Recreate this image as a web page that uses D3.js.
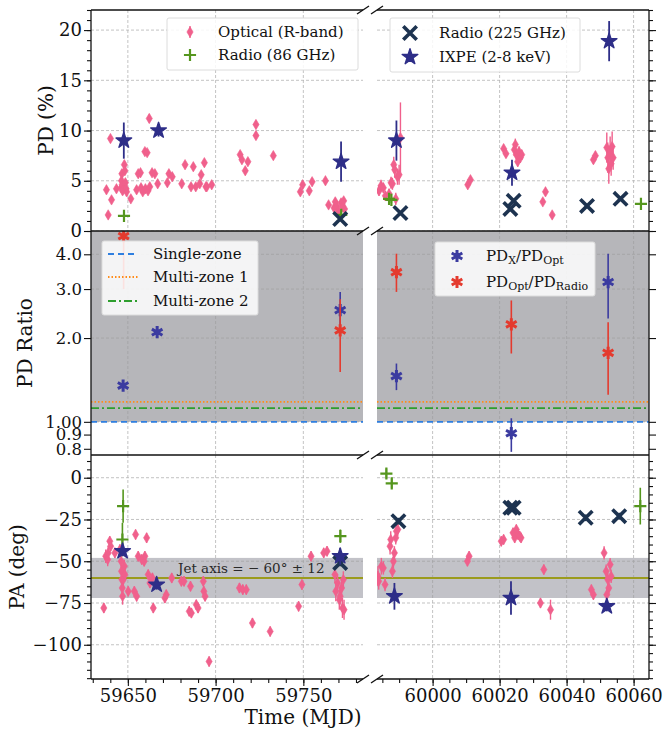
<!DOCTYPE html>
<html>
<head>
<meta charset="utf-8">
<script src="https://cdn.jsdelivr.net/npm/d3@7"></script>
<style>
  body { margin: 0; background: #fff; }
  svg text { font-family: "DejaVu Serif", serif; }
</style>
</head>
<body>
<svg id="chart" width="663" height="731"></svg>
<script>
// ---- data: [MJD, value, error] ----
const optPD = [
  [59637.8,4.1,0.3],[59638.8,1.6,0.3],[59640.1,9.2,0.3],[59640.7,3.1,0.3],[59643.5,4.2,0.3],
  [59646.2,4.3,0.4],[59646.4,5.0,0.4],[59646.6,5.7,0.4],[59646.8,4.6,0.4],[59647.0,4.0,0.4],
  [59648.0,6.6,0.4],[59648.3,6.0,0.4],[59648.6,4.8,0.4],[59649.0,4.2,0.4],[59649.3,3.9,0.4],
  [59651.7,3.2,0.3],[59655.0,4.1,0.3],[59655.9,5.7,0.3],[59657.2,5.8,0.3],[59657.5,4.3,0.3],
  [59658.5,3.9,0.3],[59659.7,7.9,0.3],[59660.0,4.2,0.3],[59661.0,7.8,0.3],[59661.5,4.0,0.3],
  [59662.2,11.2,0.4],[59662.5,4.4,0.3],[59663.8,5.8,0.3],[59665.4,5.7,0.3],[59667.0,4.7,0.3],
  [59672.5,4.8,0.3],[59673.4,5.7,0.3],[59675.3,5.4,0.3],[59680.7,4.7,0.3],[59682.6,6.6,0.3],
  [59686.0,4.4,0.3],[59687.3,6.4,0.3],[59688.7,4.4,0.3],[59691.0,4.7,0.3],[59691.8,5.6,0.3],
  [59693.6,6.8,0.3],[59694.5,4.4,0.3],[59695.0,4.4,0.3],[59697.8,4.6,0.3],[59714.0,7.6,0.3],
  [59715.0,7.1,0.3],[59716.9,6.0,0.3],[59718.4,6.9,0.3],[59723.0,10.6,0.4],[59723.0,9.5,0.4],
  [59732.9,7.5,0.3],[59748.3,3.9,0.3],[59749.6,4.6,0.3],[59753.4,4.0,0.3],[59755.0,4.9,0.3],
  [59762.6,5.0,0.3],[59764.4,2.6,0.3],[59767.5,2.3,0.4],[59768.2,2.9,0.4],[59769.0,2.5,0.4],
  [59770.0,2.0,0.4],[59771.5,2.8,0.4],[59772.3,2.4,0.4],[59773.0,3.0,0.4],[59773.5,2.2,0.4],
  [59984.0,4.0,0.5],[59984.6,4.5,0.6],[59985.3,4.3,0.5],[59985.9,3.5,0.5],[59987.0,3.7,0.5],
  [59987.6,4.8,0.6],[59988.0,4.7,0.6],[59988.4,6.6,0.8],[59988.7,6.1,0.8],[59989.0,3.2,0.6],
  [59989.5,5.4,0.8],[59990.0,5.6,1.0],[59990.4,9.3,3.5],[60010.5,4.6,0.3],[60011.3,5.1,0.3],
  [60021.2,8.2,0.4],[60021.9,7.7,0.4],[60024.4,8.1,0.6],[60024.7,8.6,0.6],[60025.0,7.6,0.5],
  [60025.4,6.9,0.5],[60025.8,7.9,0.5],[60026.2,7.3,0.5],[60026.6,7.6,0.5],[60032.9,2.9,0.3],
  [60033.7,3.9,0.3],[60035.7,1.6,0.3],[60048.0,7.1,0.4],[60048.6,7.5,0.4],[60052.0,8.3,1.5],
  [60052.3,7.3,1.5],[60052.6,6.2,1.5],[60053.0,7.9,1.5],[60053.3,6.7,1.2],[60053.6,8.4,1.5],
  [60053.9,7.3,1.2]
];
const ixpePD = [[59647.7,9.0,1.8],[59667.5,10.0,0.6],[59771.5,6.9,2.0],[59989.2,9.0,2.0],[60023.7,5.8,1.3],[60052.7,18.9,2.0]];
const r225PD = [[59771.0,1.2,0.2],[59990.4,1.8,0.2],[60023.2,2.2,0.2],[60024.2,3.0,0.2],[60046.1,2.5,0.2],[60056.1,3.2,0.2]];
const r86PD = [[59647.8,1.5,0.3],[59771.6,1.6,0.3],[59987.0,3.2,0.3],[59987.7,3.1,0.3],[60062.2,2.7,0.4]];

// ratios: [MJD, value, low, high]
const ratioX = [[59647.3,1.35,1.30,1.40],[59666.7,2.10,2.04,2.16],[59771.0,2.52,2.10,2.93],[59989.2,1.46,1.30,1.62],[60023.5,0.91,0.78,1.03],[60052.4,3.18,2.35,4.02]];
const ratioR = [[59647.6,4.65,3.0,6.5],[59771.0,2.13,1.51,2.76],[59989.2,3.45,2.93,4.02],[60023.5,2.24,1.76,2.73],[60052.4,1.77,1.25,2.28]];
const singleZone = 1.0, multiZone1 = 1.18, multiZone2 = 1.12;

const optPA = [
  [59636.3,-78,3],[59637.4,-47,4],[59638.5,-49,4],[59638.8,-45,4],[59639.7,-38,3],[59640.2,-41,3],
  [59642.6,-45,3],[59645.5,-43,3],[59646.2,-50,4],[59646.4,-56,4],[59646.6,-61,4],[59646.8,-66,5],
  [59647.0,-71,5],[59647.4,-61,4],[59648.0,-53,4],[59648.3,-58,4],[59650.2,-68,3],[59653.7,-68,3],
  [59654.4,-34,3],[59655.0,-71,3],[59655.9,-47,3],[59657.9,-49,3],[59659.3,-50,3],[59659.7,-47,3],
  [59660.7,-36,3],[59661.6,-58,3],[59662.6,-63,3],[59664.0,-60,3],[59664.5,-78,3],[59671.1,-72,3],
  [59671.9,-70,3],[59675.0,-60,3],[59680.5,-62,3],[59682.0,-62,3],[59685.0,-80,3],[59685.7,-65,3],
  [59686.2,-81,3],[59689.0,-76,3],[59690.0,-78,3],[59693.0,-62,3],[59693.3,-68,3],[59694.0,-71,3],
  [59696.3,-110,3],[59713.6,-66,3],[59715.5,-67,3],[59717.5,-67,3],[59721.0,-87,3],[59731.1,-92,3],
  [59747.3,-77,3],[59749.2,-64,3],[59754.4,-47,3],[59761.6,-45,3],[59763.5,-44,3],[59768.0,-58,5],
  [59768.5,-68,6],[59769.5,-63,5],[59770.5,-73,6],[59771.0,-71,5],[59771.8,-66,5],[59772.3,-78,6],
  [59772.8,-61,5],[59773.2,-79,6],
  [59983.7,-59,6],[59983.9,-62,5],[59984.7,-53,5],[59985.3,-54,4],[59985.8,-64,4],[59987.3,-41,5],
  [59987.5,-37,5],[59988.0,-56,4],[59988.3,-50,4],[59988.6,-45,4],[59989.0,-36,4],[59989.2,-32,4],
  [59989.6,-31,4],[60010.4,-50,3],[60010.9,-47,3],[60020.5,-38,3],[60021.2,-37,3],[60024.0,-33,3],
  [60024.5,-36,3],[60025.0,-31,3],[60025.5,-34,3],[60026.0,-35,3],[60026.4,-36,3],[60032.2,-75,3],
  [60033.2,-55,3],[60035.2,-79,6],[60047.4,-67,3],[60048.0,-70,3],[60051.2,-45,4],[60051.8,-56,4],
  [60052.3,-61,4],[60052.6,-66,4],[60053.0,-52,4],[60053.3,-59,4],[60052.0,-70,4]
];
const ixpePA = [[59647.0,-44,3],[59666.4,-64,3],[59771.0,-47,5],[59988.6,-71,8],[60023.4,-72,10],[60052.0,-77,3]];
const r225PA = [[59771.0,-51,2],[59989.8,-26,2],[60023.2,-18,2],[60024.2,-18,2],[60045.7,-24,2],[60055.7,-23,2]];
const r86PA = [[59647.3,-17,10],[59646.9,-37,10],[59771.1,-35,4],[59986.2,2.5,3],[59987.8,-3.4,3],[60062.0,-17,11]];
const jetAxis = -60, jetErr = 12;

// ---- ticks ----
const xTicksL = [59650, 59700, 59750], xTicksR = [60000, 60020, 60040, 60060];
const pdTicks = [0, 5, 10, 15, 20];
const ratioTicks = [0.8, 0.9, 1, 2, 3, 4], ratioTickLabels = ["0.8", "0.9", "1.00", "2.0", "3.0", "4.0"];
const paTicks = [-100, -75, -50, -25, 0];

// ---- layout ----
const svg = d3.select("#chart");
svg.append("rect").attr("width", 663).attr("height", 731).attr("fill", "#fff");
const defs = svg.append("defs");
const colL = [91, 363], colR = [377, 649];
const rows = [[10, 231], [231, 455], [455, 679]];

const xL = d3.scaleLinear().domain([59629, 59784]).range(colL);
const xR = d3.scaleLinear().domain([59983.4, 60064.6]).range(colR);
const yPD = d3.scaleLinear().domain([0, 22]).range([231, 10]);
const yRat = d3.scaleLog().domain([0.76, 4.85]).range([455, 231]);
const yPA = d3.scaleLinear().domain([-120.5, 13.6]).range([679, 455]);
const yScales = [yPD, yRat, yPA];

const C = {
  opt: "#f0608c", ixpe: "#2e2e88", r225: "#1d3350", r86: "#55961e",
  rx: "#3b3ba0", rr: "#e43a2e", single: "#2f7fe0", multi1: "#ff8c1a", multi2: "#2e9e2e",
  jet: "#9b9b1d"
};

const diamond = "M0,-5.2L3.1,0L0,5.2L-3.1,0Z";
const star = d3.symbol(d3.symbolStar, 76)();
const times = d3.symbol(d3.symbolTimes, 120)();
const plus = d3.symbol(d3.symbolPlus, 50)();
const aster = d3.symbol(d3.symbolAsterisk, 105)();

// panels with clipping
const panels = [];
rows.forEach((r, ri) => {
  [xL, xR].forEach((xs, ci) => {
    const id = "clip" + ri + ci;
    defs.append("clipPath").attr("id", id).append("rect")
      .attr("x", xs.range()[0]).attr("y", r[0])
      .attr("width", xs.range()[1] - xs.range()[0]).attr("height", r[1] - r[0]);
    const g = svg.append("g").attr("clip-path", "url(#" + id + ")");
    panels.push({ ri, ci, xs, ys: yScales[ri], g, top: r[0], bottom: r[1] });
  });
});

function points(g, data, xs, ys, o) {
  const lo = o.lo || (d => d[1] - d[2]);
  const hi = o.hi || (d => d[1] + d[2]);
  g.append("g").selectAll("line").data(data).enter().append("line")
    .attr("x1", d => xs(d[0])).attr("x2", d => xs(d[0]))
    .attr("y1", d => ys(lo(d))).attr("y2", d => ys(hi(d)))
    .attr("stroke", o.color).attr("stroke-width", o.ew || 1.5);
  g.append("g").selectAll("path").data(data).enter().append("path")
    .attr("d", o.sym)
    .attr("transform", d => `translate(${xs(d[0])},${ys(d[1])})`)
    .attr("fill", o.fill ? o.color : "none")
    .attr("stroke", o.color).attr("stroke-width", o.sw)
    .attr("stroke-linejoin", "round");
}

panels.forEach(p => {
  const { g, xs, ys, ri } = p;
  const x0 = xs.range()[0], x1 = xs.range()[1];
  // shading
  if (ri === 1) {
    g.append("rect").attr("x", x0).attr("y", p.top).attr("width", x1 - x0)
      .attr("height", yRat(1) - p.top).attr("fill", "#b6b6ba");
  }
  if (ri === 2) {
    g.append("rect").attr("x", x0).attr("y", yPA(jetAxis + jetErr)).attr("width", x1 - x0)
      .attr("height", yPA(jetAxis - jetErr) - yPA(jetAxis + jetErr)).attr("fill", "#c2c2c8");
  }
  // grid
  const xt = p.ci === 0 ? xTicksL : xTicksR;
  const yt = ri === 0 ? pdTicks : ri === 1 ? [1, 2, 3, 4] : paTicks;
  const grid = g.append("g").attr("stroke", "#9c9c9c").attr("stroke-width", 0.8)
    .attr("stroke-dasharray", "3,2").attr("opacity", 0.75);
  grid.selectAll(".gx").data(xt).enter().append("line")
    .attr("x1", d => xs(d)).attr("x2", d => xs(d)).attr("y1", p.top).attr("y2", p.bottom);
  grid.selectAll(".gy").data(yt).enter().append("line")
    .attr("x1", x0).attr("x2", x1).attr("y1", d => ys(d)).attr("y2", d => ys(d));

  if (ri === 0) {
    points(g, optPD, xs, ys, { color: C.opt, sym: diamond, fill: true, sw: 0.6, ew: 1.4 });
    points(g, r86PD, xs, ys, { color: C.r86, sym: plus, sw: 2.2, ew: 1.6 });
    points(g, r225PD, xs, ys, { color: C.r225, sym: times, sw: 3.6, ew: 1.6 });
    points(g, ixpePD, xs, ys, { color: C.ixpe, sym: star, fill: true, sw: 1.4, ew: 1.8 });
  } else if (ri === 1) {
    const refs = [[singleZone, C.single, "6,4", 1.8], [multiZone1, C.multi1, "1.5,2", 1.8], [multiZone2, C.multi2, "8,3,2,3", 1.8]];
    g.selectAll(".ref").data(refs).enter().append("line")
      .attr("x1", x0).attr("x2", x1).attr("y1", d => yRat(d[0])).attr("y2", d => yRat(d[0]))
      .attr("stroke", d => d[1]).attr("stroke-dasharray", d => d[2]).attr("stroke-width", d => d[3]);
    points(g, ratioX, xs, ys, { color: C.rx, sym: aster, sw: 3, ew: 1.6, lo: d => d[2], hi: d => d[3] });
    points(g, ratioR, xs, ys, { color: C.rr, sym: aster, sw: 3, ew: 1.6, lo: d => d[2], hi: d => d[3] });
  } else {
    g.append("line").attr("x1", x0).attr("x2", x1).attr("y1", yPA(jetAxis)).attr("y2", yPA(jetAxis))
      .attr("stroke", C.jet).attr("stroke-width", 2);
    points(g, optPA, xs, ys, { color: C.opt, sym: diamond, fill: true, sw: 0.6, ew: 1.4 });
    points(g, r86PA, xs, ys, { color: C.r86, sym: plus, sw: 2.2, ew: 1.6 });
    points(g, r225PA, xs, ys, { color: C.r225, sym: times, sw: 3.6, ew: 1.6 });
    points(g, ixpePA, xs, ys, { color: C.ixpe, sym: star, fill: true, sw: 1.4, ew: 1.8 });
  }
});

// jet axis label
svg.append("text").attr("x", 178).attr("y", yPA(jetAxis) - 10).attr("font-size", 13.5)
  .attr("fill", "#2a2a2a").attr("dominant-baseline", "central")
  .text("Jet axis = \u2212 60\u00b0 \u00b1 12");

// ---- axes ----
function styleAxis(sel, fs) {
  sel.select(".domain").remove();
  sel.attr("font-family", "DejaVu Serif").attr("font-size", fs || 18);
  sel.selectAll("line").attr("stroke", "#111").attr("stroke-width", 1.1);
  sel.selectAll("text").attr("fill", "#111");
}
const yMinor = [d3.range(0, 23, 1), [], d3.range(-120, 14, 5)];
const yMajor = [pdTicks, ratioTicks, paTicks];
yScales.forEach((ys, ri) => {
  const fmt = ri === 1 ? (d => ratioTickLabels[ratioTicks.indexOf(d)]) : d3.format("d");
  svg.append("g").attr("transform", `translate(${colL[0]},0)`)
    .call(d3.axisLeft(ys).tickValues(yMajor[ri]).tickSize(7).tickPadding(2).tickFormat(fmt))
    .call(styleAxis, ri === 1 ? 16.5 : 18);
  svg.append("g").attr("transform", `translate(${colL[0]},0)`)
    .call(d3.axisLeft(ys).tickValues(yMinor[ri]).tickSize(4).tickFormat("")).call(styleAxis);
  svg.append("g").attr("transform", `translate(${colR[1]},0)`)
    .call(d3.axisRight(ys).tickValues(yMajor[ri]).tickSize(7).tickFormat("")).call(styleAxis);
  svg.append("g").attr("transform", `translate(${colR[1]},0)`)
    .call(d3.axisRight(ys).tickValues(yMinor[ri]).tickSize(4).tickFormat("")).call(styleAxis);
});
[[xL, xTicksL, d3.range(59630, 59785, 10)], [xR, xTicksR, d3.range(59985, 60065, 5)]].forEach(([xs, maj, mnr]) => {
  svg.append("g").attr("transform", `translate(0,${rows[2][1]})`)
    .call(d3.axisBottom(xs).tickValues(maj).tickSize(7).tickPadding(3).tickFormat(d3.format("d"))).call(styleAxis);
  svg.append("g").attr("transform", `translate(0,${rows[2][1]})`)
    .call(d3.axisBottom(xs).tickValues(mnr).tickSize(4).tickFormat("")).call(styleAxis);
});

// spines
const spines = svg.append("g").attr("stroke", "#111").attr("stroke-width", 1.3).attr("fill", "none");
[10, 231, 455, 679].forEach(y => {
  spines.append("line").attr("x1", colL[0]).attr("x2", colL[1]).attr("y1", y).attr("y2", y);
  spines.append("line").attr("x1", colR[0]).attr("x2", colR[1]).attr("y1", y).attr("y2", y);
  [colL[1], colR[0]].forEach(x => {
    spines.append("line").attr("x1", x - 6).attr("x2", x + 6).attr("y1", y + 4).attr("y2", y - 4);
  });
});
spines.append("line").attr("x1", colL[0]).attr("x2", colL[0]).attr("y1", 10).attr("y2", 679);
spines.append("line").attr("x1", colR[1]).attr("x2", colR[1]).attr("y1", 10).attr("y2", 679);

// axis labels
const labels = [["PD (%)", 46, 120.5], ["PD Ratio", 25, 343], ["PA (deg)", 17, 567]];
labels.forEach(([t, x, y]) => {
  svg.append("text").attr("transform", `translate(${x},${y}) rotate(-90)`)
    .attr("text-anchor", "middle").attr("dominant-baseline", "central")
    .attr("font-size", 20).attr("fill", "#111").text(t);
});
svg.append("text").attr("x", 303).attr("y", 717).attr("text-anchor", "middle")
  .attr("dominant-baseline", "central").attr("font-size", 20).attr("fill", "#111").text("Time (MJD)");

// ---- legends ----
function legendBox(x, y, w, h) {
  svg.append("rect").attr("x", x).attr("y", y).attr("width", w).attr("height", h)
    .attr("fill", "#fff").attr("fill-opacity", 0.85).attr("stroke", "#dcdcdc").attr("rx", 2);
}
function legendMarker(x, y, sym, color, fill, sw) {
  svg.append("path").attr("d", sym).attr("transform", `translate(${x},${y})`)
    .attr("fill", fill ? color : "none").attr("stroke", color).attr("stroke-width", sw)
    .attr("stroke-linejoin", "round");
}
function legendText(x, y, t, fam) {
  return svg.append("text").attr("x", x).attr("y", y).attr("dominant-baseline", "central")
    .attr("font-size", 15).attr("fill", "#111").attr("font-family", fam || "DejaVu Serif").text(t);
}

legendBox(167, 18, 191, 52);
legendMarker(190, 32, diamond, C.opt, true, 0.6);
svg.append("line").attr("x1", 190).attr("x2", 190).attr("y1", 26).attr("y2", 38).attr("stroke", C.opt).attr("stroke-width", 1.4);
legendText(218, 32, "Optical (R-band)");
legendMarker(190, 55, plus, C.r86, false, 2.2);
legendText(218, 55, "Radio (86 GHz)");

legendBox(390, 18, 190, 54);
legendMarker(410, 33, times, C.r225, false, 3.6);
legendText(439, 33, "Radio (225 GHz)");
legendMarker(410, 57, star, C.ixpe, true, 1.4);
legendText(439, 57, "IXPE (2-8 keV)");

legendBox(102, 241, 156, 74);
[[254, C.single, "6,4", "Single-zone"], [277, C.multi1, "1.5,2", "Multi-zone 1"], [301, C.multi2, "8,3,2,3", "Multi-zone 2"]]
  .forEach(([y, c, da, t]) => {
    svg.append("line").attr("x1", 108).attr("x2", 138).attr("y1", y).attr("y2", y)
      .attr("stroke", c).attr("stroke-dasharray", da).attr("stroke-width", 1.8);
    legendText(153, y, t);
  });

legendBox(435, 242, 160, 54);
legendMarker(457, 256, aster, C.rx, false, 3);
legendMarker(457, 282, aster, C.rr, false, 3);
[[256, "X", "Opt"], [282, "Opt", "Radio"]].forEach(([y, a, b]) => {
  const t = legendText(486, y, "", "DejaVu Sans");
  t.append("tspan").text("PD");
  t.append("tspan").attr("font-size", 11).attr("dy", 4).text(a);
  t.append("tspan").attr("dy", -4).text("/PD");
  t.append("tspan").attr("font-size", 11).attr("dy", 4).text(b);
});
</script>
</body>
</html>
